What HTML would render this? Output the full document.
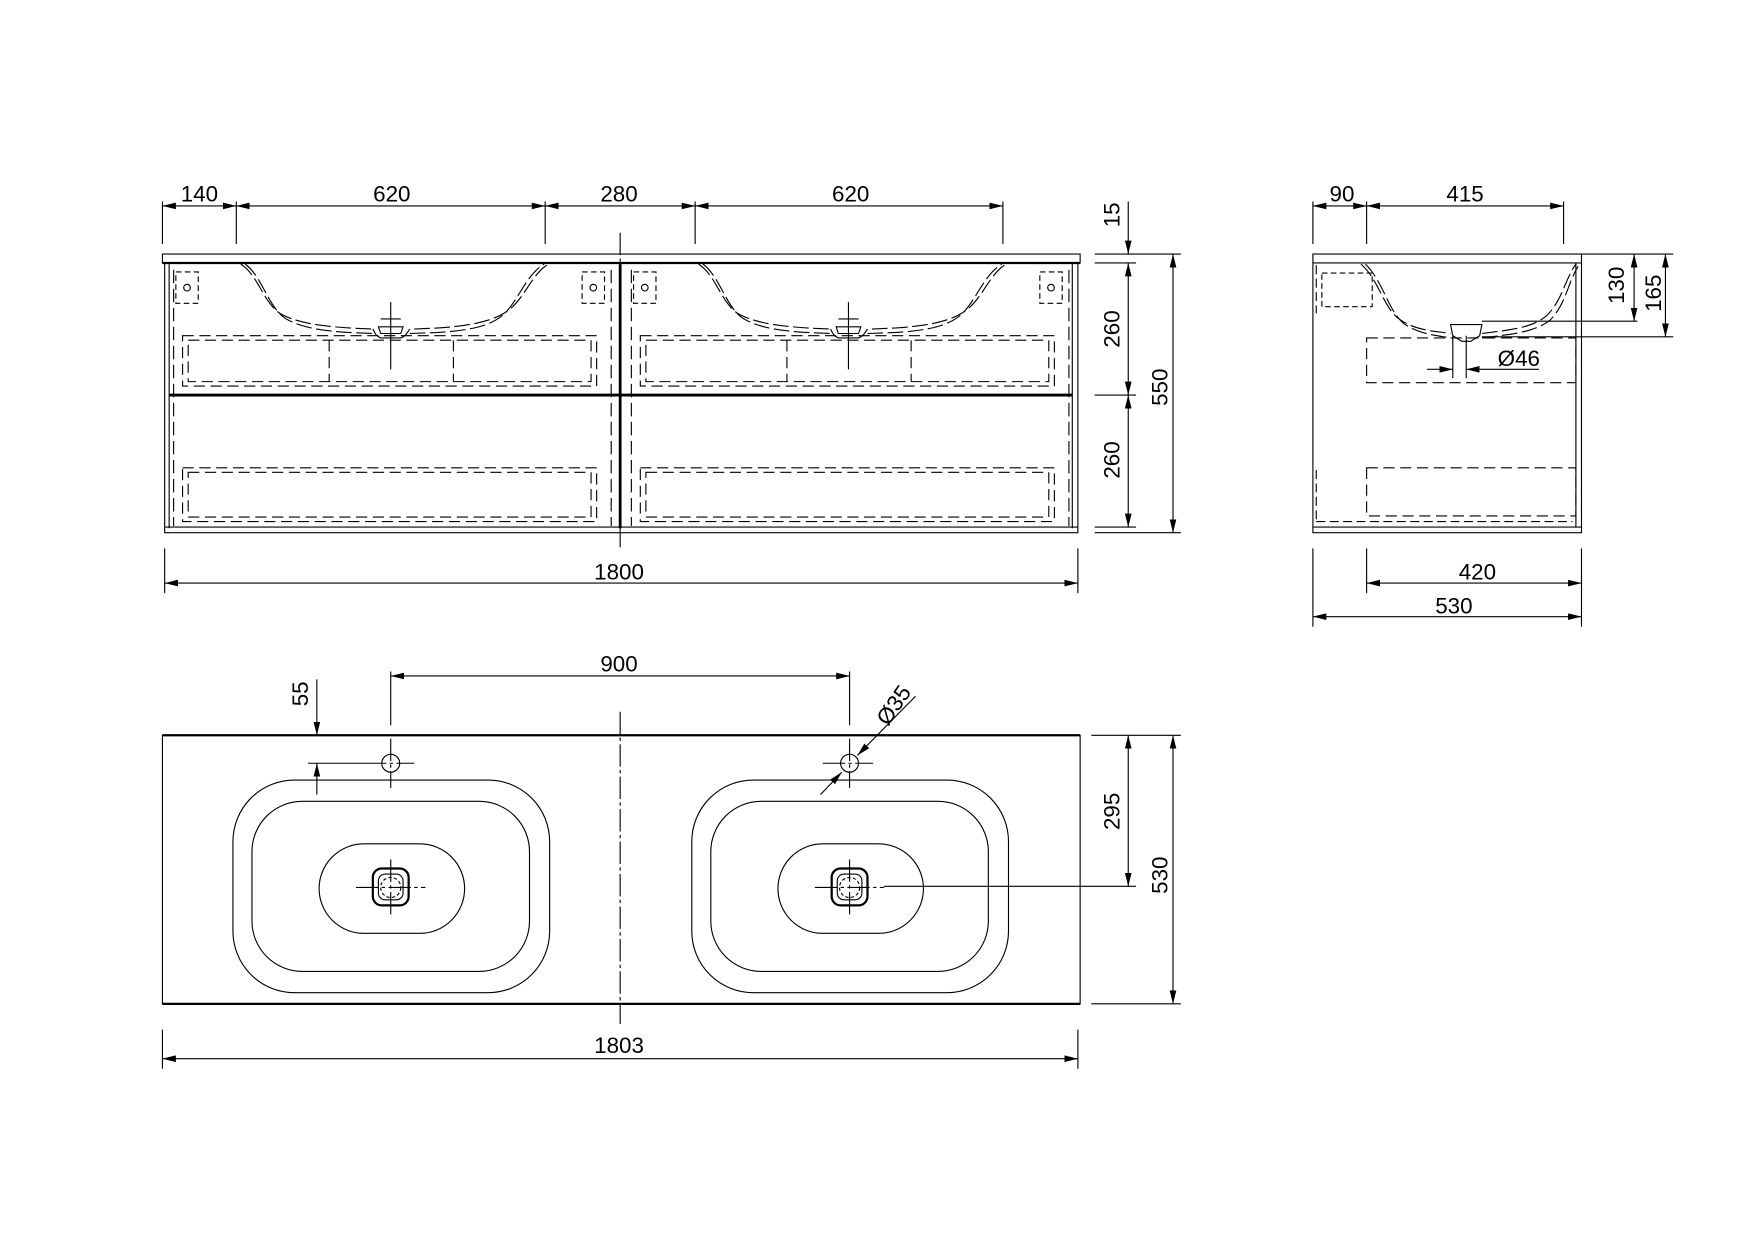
<!DOCTYPE html>
<html><head><style>html,body{margin:0;padding:0;background:#fff}svg{display:block}</style></head>
<body>
<svg width="1754" height="1240" viewBox="0 0 1567 1108" xmlns="http://www.w3.org/2000/svg" font-family="Liberation Sans, Arial, sans-serif" font-size="20" fill="none" stroke="#000" stroke-width="1">
<defs>
<marker id="a" viewBox="0 0 12 6" refX="12" refY="3" markerWidth="12" markerHeight="6" orient="auto-start-reverse" markerUnits="userSpaceOnUse"><path d="M0,0 L12,3 L0,6 z" fill="#000" stroke="none"/></marker>
<g id="basin">
<path d="M215,236 C230,245 235,270 250,280 C270,292 310,293 333,294 M370,294 C395,293 430,292 450,280 C468,270 474,245 490,236" stroke-dasharray="14,4"/>
<path d="M219,236 C234,247 239,273 254,284 C274,297 312,297 333,298 M366,298 C392,297 428,297 446,284 C462,273 468,247 486,236" stroke-dasharray="14,4"/>
<path d="M333,294 C336,300 336,300 340,302 L358,302 C362,300 362,300 366,294 M338,292 L360,292 L358,298 L340,298 z"/>
<path d="M349,270 V330 M340,285 H358"/>
<rect x="163" y="300" width="370" height="45" stroke-dasharray="10,5"/>
<rect x="168" y="304" width="360" height="37" stroke-dasharray="10,5"/>
<path d="M294,304 V341 M405,304 V341" stroke-dasharray="10,5"/>
<rect x="163" y="418" width="370" height="48" stroke-dasharray="10,5"/>
<rect x="168" y="422" width="360" height="40" stroke-dasharray="10,5"/>
<path d="M155,241 V470 M546,241 V470" stroke-dasharray="12,5"/>
<rect x="157" y="243" width="20" height="28" stroke-dasharray="5,3"/>
<circle cx="167" cy="257" r="3"/>
<rect x="520" y="243" width="20" height="28" stroke-dasharray="5,3"/>
<circle cx="530" cy="257" r="3"/>
</g>
<g id="sink">
<rect x="208" y="697" width="283" height="190" rx="55"/>
<rect x="225" y="716" width="248" height="152" rx="45"/>
<rect x="285" y="754" width="130" height="80" rx="40"/>
<rect x="333" y="776" width="32" height="33" rx="8" stroke-width="2"/>
<rect x="338" y="781" width="22" height="23" rx="6"/>
<circle cx="349" cy="793" r="9" stroke-dasharray="3,2"/>
<path d="M318,793 H380 M349,768 V818 M349,660 V704 M325,682 H370" stroke-dasharray="20,3,3,3"/>
<circle cx="349" cy="682" r="8"/>
</g>
</defs>

<g>
<path d="M145,180 V218 M211,180 V218 M487,180 V218 M621,180 V218 M896,180 V218"/>
<line x1="145" y1="184" x2="211" y2="184" marker-start="url(#a)" marker-end="url(#a)"/>
<line x1="211" y1="184" x2="487" y2="184" marker-start="url(#a)" marker-end="url(#a)"/>
<line x1="487" y1="184" x2="621" y2="184" marker-start="url(#a)" marker-end="url(#a)"/>
<line x1="621" y1="184" x2="896" y2="184" marker-start="url(#a)" marker-end="url(#a)"/>
<g fill="#000" stroke="none" text-anchor="middle">
<text x="178" y="180">140</text><text x="350" y="180">620</text><text x="553" y="180">280</text><text x="760" y="180">620</text>
<text x="553" y="518">1800</text>
</g>
<rect x="145" y="227" width="820" height="8"/>
<line x1="145" y1="235" x2="965" y2="235" stroke-width="2"/>
<rect x="147" y="235" width="816" height="241"/>
<path d="M151,236 V472 M958,236 V472 M147,471 H963"/>
<line x1="151" y1="353" x2="958" y2="353" stroke-width="2.5"/>
<line x1="554" y1="236" x2="554" y2="472" stroke-width="2.5"/>
<line x1="554" y1="208" x2="554" y2="490" stroke-dasharray="20,3,3,3"/>
<use href="#basin"/>
<use href="#basin" transform="translate(409,0)"/>
<path d="M978,227 H1055 M978,235 H1015 M978,353 H1015 M978,471 H1015 M978,476 H1055"/>
<line x1="1008" y1="180" x2="1008" y2="227" marker-end="url(#a)"/>
<line x1="1008" y1="235" x2="1008" y2="353" marker-start="url(#a)" marker-end="url(#a)"/>
<line x1="1008" y1="353" x2="1008" y2="471" marker-start="url(#a)" marker-end="url(#a)"/>
<line x1="1048" y1="227" x2="1048" y2="476" marker-start="url(#a)" marker-end="url(#a)"/>
<g fill="#000" stroke="none" text-anchor="middle">
<text transform="translate(1000,192) rotate(-90)">15</text>
<text transform="translate(1000,294) rotate(-90)">260</text>
<text transform="translate(1000,411) rotate(-90)">260</text>
<text transform="translate(1043,346) rotate(-90)">550</text>
</g>
<path d="M147,490 V530 M963,490 V530"/>
<line x1="147" y1="521" x2="963" y2="521" marker-start="url(#a)" marker-end="url(#a)"/>
</g>

<g>
<path d="M1173,180 V218 M1221,180 V218 M1397,180 V218"/>
<line x1="1173" y1="184" x2="1221" y2="184" marker-start="url(#a)" marker-end="url(#a)"/>
<line x1="1221" y1="184" x2="1397" y2="184" marker-start="url(#a)" marker-end="url(#a)"/>
<g fill="#000" stroke="none" text-anchor="middle">
<text x="1199" y="180">90</text><text x="1309" y="180">415</text>
<text x="1320" y="518">420</text><text x="1299" y="548">530</text>
<text x="1357" y="327">Ø46</text>
<text transform="translate(1451,255) rotate(-90)">130</text>
<text transform="translate(1484,262) rotate(-90)">165</text>
</g>
<rect x="1173" y="227" width="240" height="249"/>
<line x1="1173" y1="235" x2="1413" y2="235"/>
<path d="M1408,235 V471 M1173,471 H1413"/>
<path d="M1216,236 C1232,250 1236,275 1250,285 C1265,296 1285,296 1296,298 M1324,298 C1345,295 1368,294 1382,282 C1396,268 1398,250 1408,236" stroke-dasharray="14,4"/>
<path d="M1220,236 C1236,252 1240,277 1254,289 C1268,299 1286,300 1296,302 M1324,302 C1345,299 1370,298 1385,286 C1399,272 1401,252 1410,238" stroke-dasharray="14,4"/>
<path d="M1296,290 H1324 L1322,300 L1314,305 H1306 L1298,300 z"/>
<rect x="1181" y="244" width="45" height="30" stroke-dasharray="5,3"/>
<rect x="1221" y="302" width="187" height="40" stroke-dasharray="10,5"/>
<rect x="1221" y="418" width="187" height="43" stroke-dasharray="10,5"/>
<path d="M1176,237 V280 M1176,420 V465 M1176,466 H1405" stroke-dasharray="8,4"/>
<path d="M1298,300 V338 M1310,300 V338"/>
<path d="M1324,287 H1463 M1324,301 H1495 M1413,227 H1495"/>
<line x1="1460" y1="227" x2="1460" y2="287" marker-start="url(#a)" marker-end="url(#a)"/>
<line x1="1488" y1="227" x2="1488" y2="301" marker-start="url(#a)" marker-end="url(#a)"/>
<line x1="1275" y1="330" x2="1298" y2="330" marker-end="url(#a)"/>
<line x1="1375" y1="330" x2="1310" y2="330" marker-end="url(#a)"/>
<path d="M1173,490 V560 M1221,490 V530 M1413,490 V560"/>
<line x1="1221" y1="521" x2="1413" y2="521" marker-start="url(#a)" marker-end="url(#a)"/>
<line x1="1173" y1="551" x2="1413" y2="551" marker-start="url(#a)" marker-end="url(#a)"/>
</g>

<g>
<rect x="145" y="657" width="820" height="240"/>
<line x1="145" y1="657" x2="965" y2="657" stroke-width="2"/>
<line x1="145" y1="897" x2="965" y2="897" stroke-width="2"/>
<line x1="554" y1="636" x2="554" y2="915" stroke-dasharray="20,3,3,3"/>
<use href="#sink"/>
<use href="#sink" transform="translate(410,0)"/>
<path d="M349,600 V648 M759,600 V648"/>
<line x1="349" y1="604" x2="759" y2="604" marker-start="url(#a)" marker-end="url(#a)"/>
<line x1="283" y1="607" x2="283" y2="657" marker-end="url(#a)"/>
<line x1="283" y1="710" x2="283" y2="682" marker-end="url(#a)"/>
<line x1="275" y1="682" x2="325" y2="682"/>
<line x1="818" y1="622" x2="766" y2="675" marker-end="url(#a)"/>
<line x1="733" y1="710" x2="752" y2="690" marker-end="url(#a)"/>
<path d="M975,657 H1055 M975,897 H1055 M790,792 H1015"/>
<line x1="1008" y1="657" x2="1008" y2="792" marker-start="url(#a)" marker-end="url(#a)"/>
<line x1="1048" y1="657" x2="1048" y2="897" marker-start="url(#a)" marker-end="url(#a)"/>
<path d="M145,920 V955 M963,920 V955"/>
<line x1="145" y1="946" x2="963" y2="946" marker-start="url(#a)" marker-end="url(#a)"/>
<g fill="#000" stroke="none" text-anchor="middle">
<text x="553" y="600">900</text>
<text x="553" y="941">1803</text>
<text transform="translate(275,620) rotate(-90)">55</text>
<text transform="translate(804,634) rotate(-55)">Ø35</text>
<text transform="translate(1000,725) rotate(-90)">295</text>
<text transform="translate(1043,782) rotate(-90)">530</text>
</g>
</g>
</svg>
</body></html>
